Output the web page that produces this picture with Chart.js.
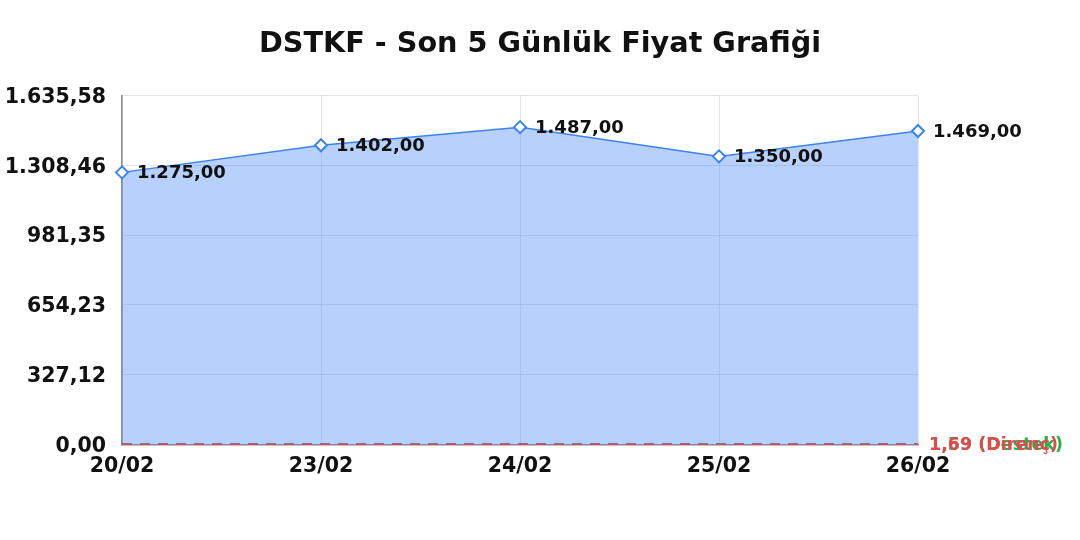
<!DOCTYPE html>
<html>
<head>
<meta charset="utf-8">
<script src="https://cdn.jsdelivr.net/npm/chart.js@4"></script>
<style>
html,body{margin:0;padding:0;background:#fff;}
#wrap{width:1080px;height:540px;}
</style>
</head>
<body>
<div id="wrap"><canvas id="c"></canvas></div>
<script>
const title = "DSTKF - Son 5 Günlük Fiyat Grafiği";
const categories = ["20/02", "23/02", "24/02", "25/02", "26/02"];
const prices = [1275.00, 1402.00, 1487.00, 1350.00, 1469.00];
const supportValue = 1.59;
const resistanceValue = 1.69;
const supportLabel = "1,59 (Destek)";
const resistanceLabel = "1,69 (Direnç)";
const yTicks = [0, 327.12, 654.23, 981.35, 1308.46, 1635.58];

const fmt = v => v.toLocaleString('tr-TR', {minimumFractionDigits: 2, maximumFractionDigits: 2});

const labelPlugin = {
  id: 'labelPlugin',
  afterDatasetsDraw(chart) {
    const ctx = chart.ctx;
    ctx.save();
    const meta = chart.getDatasetMeta(0);
    ctx.font = 'bold 18px "DejaVu Sans"';
    ctx.fillStyle = '#111';
    ctx.textAlign = 'left';
    ctx.textBaseline = 'middle';
    meta.data.forEach((pt, i) => {
      ctx.fillText(fmt(prices[i]), pt.x + 15, pt.y + 1);
    });
    const right = chart.chartArea.right;
    const y = chart.scales.y;
    ctx.font = 'bold 17.5px "DejaVu Sans"';
    ctx.fillStyle = '#22b14c';
    ctx.fillText(supportLabel, right + 11, y.getPixelForValue(supportValue) + 1);
    ctx.fillStyle = '#e5484d';
    ctx.fillText(resistanceLabel, right + 11, y.getPixelForValue(resistanceValue) + 1);
    ctx.restore();
  }
};

new Chart(document.getElementById('c'), {
  type: 'line',
  data: {
    labels: categories,
    datasets: [
      {
        data: prices,
        borderColor: 'rgb(59,130,246)',
        backgroundColor: 'rgba(59,130,246,0.37)',
        fill: 'origin',
        borderWidth: 1.5,
        tension: 0,
        pointStyle: 'rectRot',
        pointRadius: 6,
        pointBackgroundColor: '#fff',
        pointBorderColor: 'rgb(59,130,246)',
        pointBorderWidth: 2
      },
      {
        data: categories.map(() => resistanceValue),
        borderColor: 'rgb(229,72,77)',
        borderDash: [10, 8],
        borderWidth: 2,
        pointRadius: 0,
        fill: false,
        clip: false
      },
      {
        data: categories.map(() => supportValue),
        borderColor: 'rgb(34,177,76)',
        borderDash: [10, 8],
        borderWidth: 2,
        pointRadius: 0,
        fill: false,
        clip: false
      }
    ]
  },
  options: {
    responsive: true,
    maintainAspectRatio: false,
    animation: false,
    layout: {padding: {left: 0, right: 0, top: 0, bottom: 51}},
    plugins: {
      legend: {display: false},
      tooltip: {enabled: false},
      title: {
        display: true,
        text: title,
        color: '#111',
        font: {family: 'DejaVu Sans', size: 28.7, weight: 'bold'},
        padding: {top: 27, bottom: 34}
      }
    },
    scales: {
      x: {
        offset: false,
        grid: {color: 'rgba(0,0,0,0.1)', tickLength: 0},
        border: {color: '#888', width: 1.5},
        ticks: {color: '#111', font: {family: 'DejaVu Sans', size: 20.5, weight: 'bold'}, padding: 10, maxRotation: 0}
      },
      y: {
        min: 0,
        max: yTicks[yTicks.length - 1],
        afterBuildTicks(axis) { axis.ticks = yTicks.map(v => ({value: v})); },
        afterFit(axis) { axis.width = 122; },
        grid: {color: 'rgba(0,0,0,0.1)', tickLength: 0},
        border: {color: '#888', width: 1.5},
        ticks: {color: '#111', font: {family: 'DejaVu Sans', size: 20.5, weight: 'bold'}, padding: 16, labelOffset: 2,
          callback: v => fmt(v)}
      },
      yRight: {
        position: 'right',
        min: 0,
        max: 1,
        afterFit(axis) { axis.width = 162; },
        grid: {display: false},
        border: {display: false},
        ticks: {display: false}
      }
    }
  },
  plugins: [labelPlugin]
});
</script>
</body>
</html>
